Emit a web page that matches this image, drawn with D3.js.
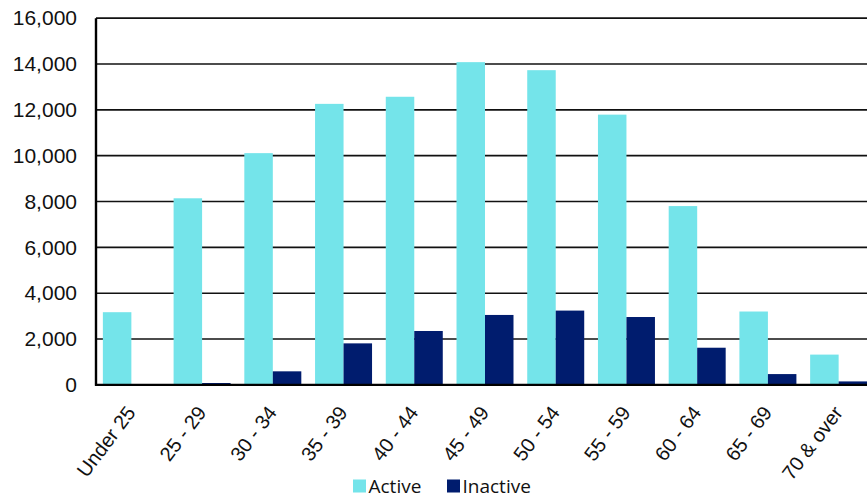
<!DOCTYPE html>
<html>
<head>
<meta charset="utf-8">
<script src="https://cdn.jsdelivr.net/npm/d3@7"></script>
<style>
  html, body { margin: 0; padding: 0; background: #fff; }
  svg { display: block; }
</style>
</head>
<body>
<svg id="chart" width="867" height="498"></svg>
<script>
// Age bands and member counts
const categories = ["Under 25", "25 - 29", "30 - 34", "35 - 39", "40 - 44", "45 - 49",
                    "50 - 54", "55 - 59", "60 - 64", "65 - 69", "70 & over"];
const seriesNames = ["Active", "Inactive"];
const activeValues   = [3170, 8140, 10110, 12260, 12570, 14080, 13730, 11790, 7800, 3200, 1320];
const inactiveValues = [0, 80, 590, 1810, 2350, 3050, 3240, 2960, 1620, 470, 150];
const yTicks = [0, 2000, 4000, 6000, 8000, 10000, 12000, 14000, 16000];
const colors = { Active: "#74e4ea", Inactive: "#001c6e" };

const svg = d3.select("#chart");
const plotLeft = 96, plotRight = 874, plotTop = 18.15, plotBottom = 384.85;

const x0 = d3.scaleBand().domain(categories).range([plotLeft, plotRight]).padding(0);
const x1 = d3.scaleBand().domain(seriesNames).range([0, x0.bandwidth()])
  .paddingInner(0).paddingOuter(0.241);
const y = d3.scaleLinear().domain([0, 16000]).range([plotBottom, plotTop]);

const fmt = d3.format(",");

// Horizontal gridlines
svg.append("g")
  .selectAll("line")
  .data(yTicks.filter(d => d > 0))
  .join("line")
  .attr("x1", plotLeft).attr("x2", 867)
  .attr("y1", d => y(d)).attr("y2", d => y(d))
  .attr("stroke", "#111").attr("stroke-width", 1.6);

// Y axis labels
const yAxis = d3.axisLeft(y).tickValues(yTicks).tickFormat(fmt).tickSize(0).tickPadding(19);
const gy = svg.append("g").attr("transform", `translate(${plotLeft},0)`).call(yAxis);
gy.select(".domain").remove();
gy.selectAll("text")
  .attr("font-family", "'Liberation Sans', Arial, sans-serif")
  .attr("font-size", 21)
  .attr("fill", "#111");

// Bars
const rows = categories.map((c, i) => ({ cat: c, Active: activeValues[i], Inactive: inactiveValues[i] }));
const groups = svg.append("g").selectAll("g")
  .data(rows)
  .join("g")
  .attr("transform", d => `translate(${x0(d.cat)},0)`);
groups.selectAll("rect")
  .data(d => seriesNames.map(s => ({ s, v: d[s] })))
  .join("rect")
  .attr("x", d => x1(d.s))
  .attr("width", x1.bandwidth())
  .attr("y", d => y(d.v))
  .attr("height", d => y(0) - y(d.v))
  .attr("fill", d => colors[d.s]);

// Axis lines
svg.append("line")
  .attr("x1", plotLeft).attr("x2", plotLeft).attr("y1", plotTop).attr("y2", plotBottom + 1)
  .attr("stroke", "#000").attr("stroke-width", 2.4);
svg.append("line")
  .attr("x1", plotLeft - 1).attr("x2", 867).attr("y1", plotBottom).attr("y2", plotBottom)
  .attr("stroke", "#000").attr("stroke-width", 2.4);

// Category labels, rotated
svg.append("g")
  .selectAll("text")
  .data(categories)
  .join("text")
  .attr("transform", d => `translate(${x0(d) + x0.bandwidth() / 2 + 5},${plotBottom + 28}) rotate(-53)`)
  .attr("text-anchor", "end")
  .attr("font-family", "'Liberation Sans', Arial, sans-serif")
  .attr("font-size", 20)
  .attr("fill", "#111")
  .text(d => d);

// Legend
const legend = svg.append("g").attr("transform", "translate(353,479.5)");
const legendItems = [{ s: "Active", x: 0 }, { s: "Inactive", x: 94 }];
const li = legend.selectAll("g").data(legendItems).join("g")
  .attr("transform", d => `translate(${d.x},0)`);
li.append("rect").attr("width", 13).attr("height", 13).attr("fill", d => colors[d.s]);
li.append("text")
  .attr("x", 15.5).attr("y", 13)
  .attr("font-family", "'Open Sans', sans-serif")
  .attr("font-size", 19)
  .attr("fill", "#111")
  .text(d => d.s);
</script>
</body>
</html>
